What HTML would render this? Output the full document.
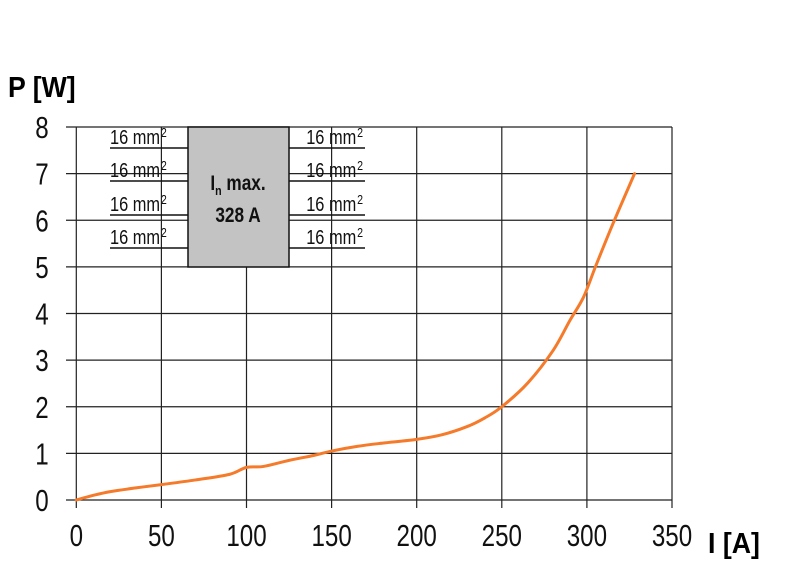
<!DOCTYPE html>
<html><head><meta charset="utf-8"><style>
body{margin:0;background:#fff;}
svg{display:block;font-family:"Liberation Sans",sans-serif;}
</style></head><body>
<svg width="800" height="563" viewBox="0 0 800 563">
<g id="grid"></g>
<g id="inset"></g>
<g id="plot"></g>
<g transform="translate(8,97) scale(0.92,1)"><text x="0" y="0" font-size="29" font-weight="bold">P [W]</text></g>
<g transform="translate(708,553) scale(0.92,1)"><text x="0" y="0" font-size="29" font-weight="bold">I [A]</text></g>
</svg>
<script>
const xTicks=[0,50,100,150,200,250,300,350];
const yTicks=[0,1,2,3,4,5,6,7,8];
const currentA=[0,10,20,35,50,70,90,100,110,125,140,150,165,180,200,215,230,240,250,265,280,290,298,305,315,328];
const powerW=[0,0.1,0.18,0.26,0.33,0.43,0.55,0.7,0.72,0.85,0.96,1.05,1.15,1.22,1.3,1.4,1.58,1.76,2.0,2.5,3.2,3.85,4.35,5.0,5.9,7.0];
const NS="http://www.w3.org/2000/svg";
const X=v=>76.3+v*(672-76.3)/350;
const Y=v=>500-v*(500-127)/8;
function mk(tag,attrs,parent){const e=document.createElementNS(NS,tag);for(const k in attrs)e.setAttribute(k,attrs[k]);parent.appendChild(e);return e;}
function ctext(parent,x,y,size,anchor,sx,weight){
  const g=mk('g',{transform:`translate(${x},${y}) scale(${sx},1)`},parent);
  return mk('text',{x:0,y:0,'font-size':size,'text-anchor':anchor,fill:'#111','font-weight':weight||'normal'},g);
}
const grid=document.getElementById('grid');
yTicks.forEach(t=>{
  const l=mk('line',{x1:66,x2:672,y1:Y(t),y2:Y(t),stroke:'#222','stroke-width':1.2},grid);
  
  
  const tx=ctext(grid,42,Y(t)+11,31,'middle',0.78);
  tx.textContent=t;
  
  
});
xTicks.forEach(t=>{
  const l=mk('line',{x1:X(t),x2:X(t),y1:127,y2:508,stroke:'#222','stroke-width':1.2},grid);
  
  
  const tx=ctext(grid,X(t),546,31,'middle',0.78);
  tx.textContent=t;
  
  
});
const inset=document.getElementById('inset');
const box=mk('rect',{x:188,y:127,width:101,height:140,fill:'#c3c3c3',stroke:'#111','stroke-width':1.5},inset);


[148,181,215,248].forEach(y=>{
  [[110,188,'start',110],[289,365,'end',363]].forEach(([a,b,anc,tx])=>{
    const l=mk('line',{x1:a,x2:b,y1:y,y2:y,stroke:'#111','stroke-width':1.5},inset);
    
    
    const t=ctext(inset,tx,y-4,20,anc,0.82);
    t.innerHTML='16 mm<tspan font-size="13" dx="1" dy="-7">2</tspan>';
    
    
  });
});
const t1=ctext(inset,238,190,21,'middle',0.82,'bold');
t1.innerHTML='I<tspan font-size="13" dy="5">n</tspan><tspan dy="-5"> max.</tspan>';


const t2=ctext(inset,238,222,21,'middle',0.82,'bold');
t2.textContent='328 A';


const plot=document.getElementById('plot');
const pts=currentA.map((c,i)=>[X(c),Y(powerW[i])]);
let d='M'+pts[0][0]+','+pts[0][1];
for(let i=0;i<pts.length-1;i++){
  const p0=pts[Math.max(0,i-1)],p1=pts[i],p2=pts[i+1],p3=pts[Math.min(pts.length-1,i+2)];
  const c1=[p1[0]+(p2[0]-p0[0])/6,p1[1]+(p2[1]-p0[1])/6];
  const c2=[p2[0]-(p3[0]-p1[0])/6,p2[1]-(p3[1]-p1[1])/6];
  d+=` C${c1[0]},${c1[1]} ${c2[0]},${c2[1]} ${p2[0]},${p2[1]}`;
}
const p=mk('path',{d:d,fill:'none',stroke:'#f57a2a','stroke-width':3,'stroke-linejoin':'round','stroke-linecap':'round'},plot);


</script>
</body></html>
